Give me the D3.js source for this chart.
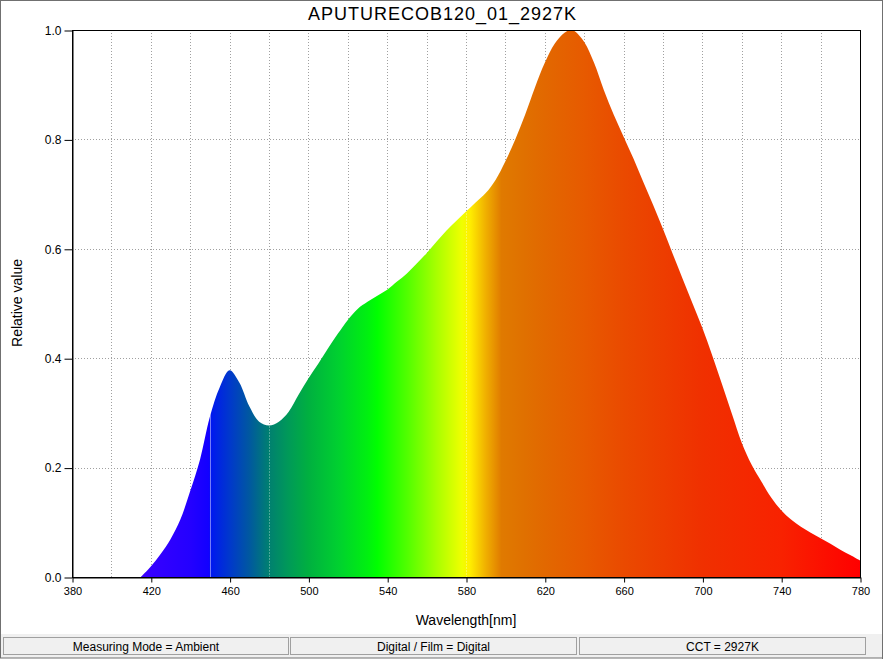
<!DOCTYPE html>
<html>
<head>
<meta charset="utf-8">
<script src="https://cdn.jsdelivr.net/npm/d3@7"></script>
<style>
  html, body { margin: 0; padding: 0; background: #ffffff; }
  svg { display: block; }
  text { font-family: "Liberation Sans", Arial, sans-serif; }
</style>
</head>
<body>
<svg id="chart" width="884" height="659"></svg>
<script>
// ---------- data ----------
const title = "APUTURECOB120_01_2927K";
const wavelengths = [415, 420, 425, 430, 435, 440, 445, 450, 455, 460, 465, 470, 475, 480, 485, 490, 495, 500,
  505, 510, 515, 520, 525, 530, 535, 540, 545, 550, 555, 560, 565, 570, 575, 580, 585, 590, 595, 600,
  605, 610, 615, 620, 625, 630, 633, 635, 640, 645, 650, 655, 660, 665, 670, 675, 680, 685, 690, 695, 700,
  705, 710, 715, 720, 725, 730, 735, 740, 745, 750, 755, 760, 765, 770, 775, 780];
const relValues = [0.0, 0.019, 0.042, 0.069, 0.105, 0.157, 0.215, 0.293, 0.347, 0.378, 0.355, 0.312, 0.284, 0.277, 0.284, 0.302, 0.333, 0.363,
  0.39, 0.418, 0.445, 0.47, 0.49, 0.503, 0.514, 0.525, 0.54, 0.555, 0.573, 0.592, 0.613, 0.633, 0.651, 0.668, 0.685, 0.702, 0.726, 0.76,
  0.80, 0.845, 0.895, 0.94, 0.975, 0.995, 1.0, 0.998, 0.978, 0.94, 0.89, 0.845, 0.805, 0.765, 0.722, 0.68, 0.636, 0.59, 0.545, 0.50, 0.455,
  0.405, 0.352, 0.298, 0.245, 0.205, 0.174, 0.145, 0.122, 0.105, 0.092, 0.081, 0.071, 0.061, 0.05, 0.04, 0.03];
const xTicks = [380, 420, 460, 500, 540, 580, 620, 660, 700, 740, 780];
const xGrid = [400, 420, 440, 460, 480, 500, 520, 540, 560, 580, 600, 620, 640, 660, 680, 700, 720, 740, 760];
const yTicks = [0.0, 0.2, 0.4, 0.6, 0.8, 1.0];
const yGrid = [0.2, 0.4, 0.6, 0.8];
// spectral colour stops (wavelength nm, colour)
const stopNm = [380, 415, 440, 449.5, 450.5, 460, 470, 480, 490, 500, 515, 530, 535, 550, 565, 578, 582, 590, 598, 610, 620, 640, 660, 700, 740, 780];
const stopColor = ["#6000ff", "#3a00ff", "#2400ff", "#1200ff", "#0018f0", "#0038cc", "#0058a0", "#008070", "#009a58", "#00b040", "#00d030", "#00f010", "#00ff00", "#50ff00", "#a8ff00", "#f0ff00", "#ffee00", "#f0b000", "#e07a00", "#e07000", "#e26800", "#e75a00", "#ea4a00", "#f03000", "#f82200", "#ff0000"];
const bandEdges = [450, 480, 580];
const statusTexts = ["Measuring Mode = Ambient", "Digital / Film = Digital", "CCT = 2927K"];

// ---------- layout ----------
const svg = d3.select("#chart");
const W = 884, H = 659;
const L = 72, R = 860, T = 30, B = 577;
const x = d3.scaleLinear().domain([380, 780]).range([L, R]);
const y = d3.scaleLinear().domain([0, 1]).range([B, T]);

// window background & border
svg.append("rect").attr("x", 0).attr("y", 0).attr("width", W).attr("height", H).attr("fill", "#ffffff");
svg.append("rect").attr("x", 1).attr("y", 634).attr("width", W - 3).attr("height", 24).attr("fill", "#f0f0f0");

// gradient
const defs = svg.append("defs");
const grad = defs.append("linearGradient").attr("id", "spec")
  .attr("gradientUnits", "userSpaceOnUse")
  .attr("x1", x(380)).attr("x2", x(780)).attr("y1", 0).attr("y2", 0);
stopNm.forEach((nm, i) => {
  grad.append("stop").attr("offset", (nm - 380) / 400).attr("stop-color", stopColor[i]);
});
defs.append("clipPath").attr("id", "plotclip").append("rect")
  .attr("x", L).attr("y", T).attr("width", R - L).attr("height", B - T);

// grid
const grid = svg.append("g").attr("stroke", "#a0a0a0").attr("stroke-width", 1).attr("stroke-dasharray", "1,2");
grid.selectAll("line.v").data(xGrid).join("line")
  .attr("x1", d => Math.round(x(d)) + 0.5).attr("x2", d => Math.round(x(d)) + 0.5)
  .attr("y1", T).attr("y2", B);
grid.selectAll("line.h").data(yGrid).join("line")
  .attr("y1", d => Math.round(y(d)) + 0.5).attr("y2", d => Math.round(y(d)) + 0.5)
  .attr("x1", L).attr("x2", R);

// area
const data = wavelengths.map((w, i) => ({ w, v: relValues[i] }));
const area = d3.area().x(d => x(d.w)).y0(y(0)).y1(d => y(d.v)).curve(d3.curveCatmullRom.alpha(0.5));
svg.append("path").datum(data).attr("d", area).attr("fill", "url(#spec)").attr("clip-path", "url(#plotclip)");

// faint band edge lines within area
const areaClip = defs.append("clipPath").attr("id", "areaclip");
areaClip.append("path").datum(data).attr("d", area);
svg.append("g").attr("clip-path", "url(#areaclip)")
  .selectAll("line").data(bandEdges).join("line")
  .attr("x1", d => Math.round(x(d)) + 0.5).attr("x2", d => Math.round(x(d)) + 0.5)
  .attr("y1", T).attr("y2", B)
  .attr("stroke", "#ffffff")
  .attr("stroke-opacity", (d, i) => i === 0 ? 0.45 : 0.3)
  .attr("stroke-dasharray", (d, i) => i === 0 ? null : "2,1");

// frame
svg.append("rect").attr("x", L + 0.5).attr("y", T + 0.5).attr("width", R - L).attr("height", B - T)
  .attr("fill", "none").attr("stroke", "#000").attr("stroke-width", 1);

// axes
const xAxis = d3.axisBottom(x).tickValues(xTicks).tickFormat(d3.format("d")).tickSize(5).tickSizeOuter(0);
const gx = svg.append("g").attr("transform", `translate(0.5,${B + 0.5})`).call(xAxis);
gx.select(".domain").attr("stroke", "#000");
gx.selectAll(".tick line").attr("stroke", "#000");
gx.selectAll(".tick text").attr("font-size", 11).attr("fill", "#000").attr("dy", "0.9em")
  .attr("font-family", "'Liberation Sans Narrow', 'Liberation Sans', Arial, sans-serif");

const yAxis = d3.axisLeft(y).tickValues(yTicks).tickFormat(d3.format(".1f")).tickSize(8).tickSizeOuter(0);
const gy = svg.append("g").attr("transform", `translate(${L + 0.5},0.5)`).call(yAxis);
gy.select(".domain").attr("stroke", "#000");
gy.selectAll(".tick line").attr("stroke", "#000");
gy.selectAll(".tick text").attr("font-size", 12).attr("fill", "#000").attr("x", -11);

// titles
svg.append("text").attr("x", 442).attr("y", 20).attr("text-anchor", "middle")
  .attr("font-size", 18).attr("textLength", 268).attr("lengthAdjust", "spacing")
  .attr("fill", "#000").text(title);
svg.append("text").attr("x", 466).attr("y", 625).attr("text-anchor", "middle")
  .attr("font-size", 14).attr("fill", "#000").text("Wavelength[nm]");
svg.append("text").attr("transform", "translate(22,303) rotate(-90)").attr("text-anchor", "middle")
  .attr("font-size", 14).attr("fill", "#000").text("Relative value");

// status bar
const panelX = [3, 290, 579];
const panelW = [286, 287, 287];
const sb = svg.append("g");
statusTexts.forEach((t, i) => {
  sb.append("rect").attr("x", panelX[i] + 0.5).attr("y", 637.5).attr("width", panelW[i] - 1).attr("height", 17)
    .attr("fill", "#f0f0f0").attr("stroke", "#a0a0a0");
  sb.append("text").attr("x", panelX[i] + panelW[i] / 2).attr("y", 650.5).attr("text-anchor", "middle")
    .attr("font-size", 12).attr("fill", "#000").text(t);
});

// window border
svg.append("rect").attr("x", 0.5).attr("y", 0.5).attr("width", W - 2).attr("height", H - 1.5)
  .attr("fill", "none").attr("stroke", "#707070").attr("stroke-width", 1);
svg.append("line").attr("x1", W - 1.5).attr("x2", W - 1.5).attr("y1", 0).attr("y2", H).attr("stroke", "#707070");
</script>
</body>
</html>
